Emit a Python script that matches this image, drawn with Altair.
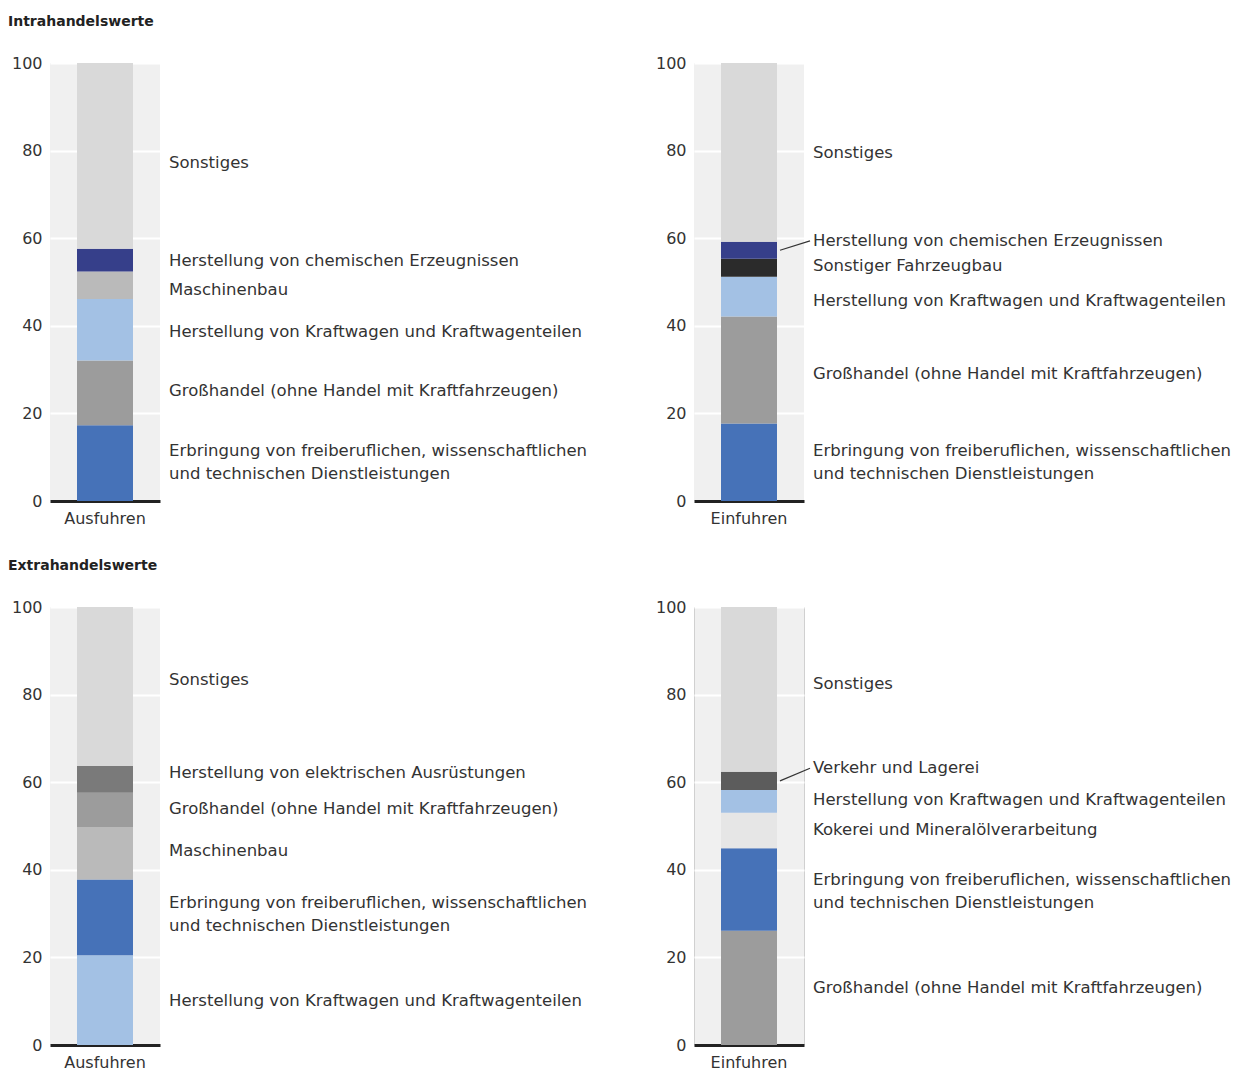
import altair as alt
import pandas as pd

# ---- category labels ----
ERB = "Erbringung von freiberuflichen, wissenschaftlichen\nund technischen Dienstleistungen"
GROSS_A = "Großhandel (ohne Handel  mit Kraftfahrzeugen)"
GROSS_B = "Großhandel (ohne Handel mit Kraftfahrzeugen)"
KFZ = "Herstellung von Kraftwagen und Kraftwagenteilen"
MASCH = "Maschinenbau"
CHEM = "Herstellung von chemischen Erzeugnissen"
SONST = "Sonstiges"
FAHRZ = "Sonstiger Fahrzeugbau"
ELEKT = "Herstellung von elektrischen Ausrüstungen"
KOKS = "Kokerei und Mineralölverarbeitung"
VERK = "Verkehr und Lagerei"

# ---- data (shares in %, bottom to top) ----
intra_aus_cats = [ERB, GROSS_A, KFZ, MASCH, CHEM, SONST]
intra_aus_vals = [17.3, 14.8, 14.0, 6.3, 5.2, 42.4]

intra_ein_cats = [ERB, GROSS_B, KFZ, FAHRZ, CHEM, SONST]
intra_ein_vals = [17.7, 24.4, 9.1, 4.1, 3.9, 40.8]

extra_aus_cats = [KFZ, ERB, MASCH, GROSS_A, ELEKT, SONST]
extra_aus_vals = [20.5, 17.3, 12.0, 7.8, 6.1, 36.3]

extra_ein_cats = [GROSS_B, ERB, KOKS, KFZ, VERK, SONST]
extra_ein_vals = [26.1, 18.8, 8.1, 5.2, 4.2, 37.6]

y_ticks = [0, 20, 40, 60, 80, 100]

# ---- label anchor heights (axis units, first text line) ----
intra_aus_label_at = [11.4, 25.1, 38.6, 48.2, 54.8, 77.2]
intra_ein_label_at = [11.4, 29.0, 45.7, 53.7, 59.4, 79.5]
extra_aus_label_at = [10.0, 32.4, 44.3, 53.9, 62.1, 83.3]
extra_ein_label_at = [13.0, 37.7, 49.1, 55.9, 63.2, 82.4]

# ---- styles ----
BLUE = "#4672b8"
LBLUE = "#a3c1e4"
GREY = "#9c9c9c"
LGREY = "#bababa"
NAVY = "#363f8a"
SON = "#d9d9d9"
intra_aus_colors = [BLUE, GREY, LBLUE, LGREY, NAVY, SON]
intra_ein_colors = [BLUE, GREY, LBLUE, "#2b2b2b", NAVY, SON]
extra_aus_colors = [LBLUE, BLUE, LGREY, GREY, "#7a7a7a", SON]
extra_ein_colors = [GREY, BLUE, "#e6e6e6", LBLUE, "#5c5c5c", SON]

FONT = "DejaVu Sans"
TXT = "#333333"
W, H = 110, 438
BAR = 56


def panel(group, cats, vals, colors, label_at, leader=(), title=None, border=False):
    rows = []
    start = 0.0
    for i, (c, v, ly) in enumerate(zip(cats, vals, label_at)):
        end = start + v
        rows.append(dict(grp=group, cat=c, idx=i, start=start, end=end,
                         mid=(start + end) / 2, ly=ly, lead=c in leader))
        start = end
    df = pd.DataFrame(rows)

    xenc = alt.X("grp:N", title=None,
                 axis=alt.Axis(labelAngle=0, ticks=False, grid=False, domainColor="#222222",
                               domainWidth=3, labelFontSize=16, labelColor=TXT, labelPadding=9,
                               labelFont=FONT))
    yenc = alt.Y("start:Q", title=None,
                 scale=alt.Scale(domain=[0, 100], nice=False),
                 axis=alt.Axis(values=y_ticks, ticks=False, domain=False, gridColor="white",
                               gridWidth=2, labelFontSize=16, labelColor=TXT, labelPadding=8,
                               labelFont=FONT))
    bars = alt.Chart(df).mark_bar(size=BAR).encode(
        x=xenc,
        y=yenc,
        y2="end:Q",
        color=alt.Color("cat:N", scale=alt.Scale(domain=cats, range=colors), legend=None),
    )
    text = alt.Chart(df).mark_text(align="left", baseline="middle", font=FONT, fontSize=16.5,
                                   color=TXT, lineBreak="\n", lineHeight=23).encode(
        x=alt.value(W + 9),
        y=alt.Y("ly:Q"),
        text="cat:N",
    )
    layers = [bars, text]
    if leader:
        rules = alt.Chart(df).transform_filter("datum.lead").mark_rule(
            color="#333333", strokeWidth=1.2).encode(
            x=alt.value(86), x2=alt.value(116), y="mid:Q", y2="ly:Q")
        layers.append(rules)
    ch = alt.layer(*layers).properties(
        width=W, height=H,
        view=alt.ViewBackground(fill="#f0f0f0", stroke="#d0d0d0" if border else None),
    )
    if title:
        ch = ch.properties(title=alt.TitleParams(
            title, anchor="start", frame="group", dx=-42, offset=26,
            font=FONT, fontSize=14, fontWeight="bold", color="#222222"))
    return ch


p1 = panel("Ausfuhren", intra_aus_cats, intra_aus_vals, intra_aus_colors, intra_aus_label_at,
           title="Intrahandelswerte")
p2 = panel("Einfuhren", intra_ein_cats, intra_ein_vals, intra_ein_colors, intra_ein_label_at,
           leader=(CHEM,))
p3 = panel("Ausfuhren", extra_aus_cats, extra_aus_vals, extra_aus_colors, extra_aus_label_at,
           title="Extrahandelswerte")
p4 = panel("Einfuhren", extra_ein_cats, extra_ein_vals, extra_ein_colors, extra_ein_label_at,
           leader=(VERK,), border=True)

chart = alt.concat(
    p1, p2, p3, p4, columns=2, spacing={"row": 106, "column": 534}, bounds="flush"
).resolve_scale(color="independent").properties(
    padding={"left": 8, "top": 15, "right": 5, "bottom": 5},
).configure(font=FONT).configure_view(strokeWidth=1)

chart.save("out.html", embed_options={"renderer": "svg", "actions": False})
